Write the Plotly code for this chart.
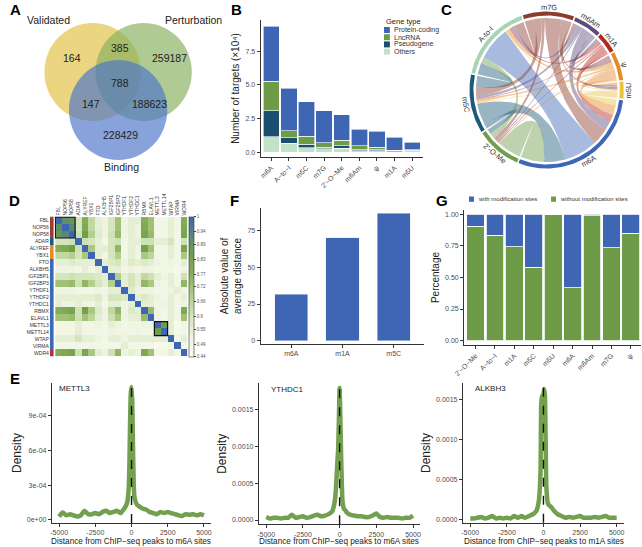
import numpy as np
import plotly.graph_objects as go

W, H = 642, 547
FONT = "Liberation Sans, Arial, Helvetica, sans-serif"
DARK = "#1a1a1a"
TICKC = "#4d4d4d"

# ======================= DATA =======================
# Panel A (Venn)
venn_sets = ["Validated", "Perturbation", "Binding"]
venn_regions = ["V", "V&P", "P", "V&P&B", "V&B", "P&B", "B"]
venn_counts = [164, 385, 259187, 788, 147, 188623, 228429]

# Panel B (x10^4 targets)
b_mods = ["m6A", "A−to−I", "m5C", "m7G", "2'−O−Me", "m6Am", "ψ", "m1A", "m5U"]
gene_types = ["Protein-coding", "LncRNA", "Pseudogene", "Others"]
b_protein = [4.08, 3.15, 2.55, 2.40, 1.90, 1.20, 1.19, 0.95, 0.55]
b_lnc = [2.22, 0.52, 0.60, 0.33, 0.40, 0.30, 0.18, 0.05, 0.05]
b_pseudo = [1.91, 0.41, 0.25, 0.12, 0.20, 0.10, 0.08, 0.05, 0.05]
b_others = [1.16, 0.67, 0.35, 0.25, 0.30, 0.10, 0.10, 0.05, 0.10]

# Panel C (chord)
chord_nodes = ["m7G", "m6Am", "m1A", "ψ", "m5U", "m6A", "2'-O-Me", "m5C", "A-to-I"]
link_a = ["m6A", "m6A", "m6A", "m6A", "m6A", "m6A", "m6A", "m6A",
          "A-to-I", "A-to-I", "A-to-I", "A-to-I", "A-to-I", "A-to-I", "A-to-I",
          "m5C", "m5C", "m5C", "m5C", "m5C", "m5C",
          "2'-O-Me", "2'-O-Me", "2'-O-Me", "2'-O-Me",
          "m7G", "m7G", "m7G", "m7G",
          "m6Am", "m6Am", "m6Am", "m1A", "m1A", "ψ"]
link_b = ["A-to-I", "m5C", "2'-O-Me", "m7G", "m6Am", "m1A", "ψ", "m5U",
          "m5C", "m7G", "2'-O-Me", "m6Am", "ψ", "m1A", "m5U",
          "m7G", "2'-O-Me", "m6Am", "ψ", "m1A", "m5U",
          "m7G", "m6Am", "ψ", "m1A",
          "m6Am", "m1A", "ψ", "m5U",
          "m1A", "ψ", "m5U", "ψ", "m5U", "m5U"]
link_v = [28, 18, 20, 14, 8, 6, 8, 5,
          10, 8, 5, 3, 3, 2, 1,
          6, 4, 3, 2, 1, 1,
          3, 1, 1, 1,
          2, 2, 3, 2,
          2, 2, 1, 1, 1, 2]

# Panel D (correlation heatmap)
d_genes = ["FBL", "NOP56", "NOP58", "ADAR", "ALYREF", "YBX1", "FTO", "ALKBH5", "IGF2BP1", "IGF2BP3",
           "YTHDF1", "YTHDF2", "YTHDC1", "RBMX", "ELAVL1", "METTL3", "METTL14", "WTAP", "VIRMA", "WDR4"]
d_group = [0, 0, 0, 1, 2, 2, 3, 3, 3, 3, 3, 3, 3, 3, 3, 3, 3, 3, 3, 4]
d_corr = [
    [1, .90, .88, .60, .78, .65, .55, .52, .60, .72, .52, .55, .55, .78, .72, .50, .50, .55, .50, .78],
    [.90, 1, .92, .60, .80, .65, .55, .52, .60, .72, .52, .55, .52, .80, .72, .50, .50, .55, .50, .80],
    [.88, .92, 1, .62, .85, .68, .57, .52, .62, .74, .52, .55, .52, .82, .74, .50, .50, .55, .50, .82],
    [.60, .60, .62, 1, .62, .60, .55, .50, .60, .62, .50, .55, .55, .62, .62, .55, .55, .60, .50, .62],
    [.78, .80, .85, .62, 1, .70, .55, .55, .60, .75, .50, .55, .52, .84, .72, .50, .50, .55, .50, .82],
    [.65, .65, .68, .60, .70, 1, .55, .50, .60, .68, .50, .55, .50, .70, .66, .50, .50, .55, .50, .70],
    [.55, .55, .57, .55, .55, .55, 1, .55, .58, .60, .52, .58, .55, .58, .56, .52, .50, .52, .50, .56],
    [.52, .52, .52, .50, .55, .50, .55, 1, .55, .55, .50, .52, .50, .52, .52, .50, .50, .50, .48, .52],
    [.60, .60, .62, .60, .60, .60, .58, .55, 1, .68, .55, .60, .55, .65, .62, .55, .52, .55, .50, .62],
    [.72, .72, .74, .62, .75, .68, .60, .55, .68, 1, .55, .60, .55, .75, .70, .52, .50, .55, .50, .75],
    [.52, .52, .52, .50, .50, .50, .52, .50, .55, .55, 1, .58, .52, .52, .52, .50, .50, .52, .55, .52],
    [.55, .55, .55, .55, .55, .55, .58, .52, .60, .60, .58, 1, .55, .58, .55, .52, .50, .55, .50, .55],
    [.55, .52, .52, .55, .52, .50, .55, .50, .55, .55, .52, .55, 1, .55, .55, .50, .52, .55, .50, .52],
    [.78, .80, .82, .62, .84, .70, .58, .52, .65, .75, .52, .58, .55, 1, .74, .52, .50, .55, .50, .80],
    [.72, .72, .74, .62, .72, .66, .56, .52, .62, .70, .52, .55, .55, .74, 1, .52, .50, .55, .50, .72],
    [.50, .50, .50, .55, .50, .50, .52, .50, .55, .52, .50, .52, .50, .52, .52, 1, .86, .55, .46, .50],
    [.50, .50, .50, .55, .50, .50, .50, .50, .52, .50, .50, .50, .52, .50, .50, .86, 1, .55, .48, .50],
    [.55, .55, .55, .60, .55, .55, .52, .50, .55, .55, .52, .55, .55, .55, .55, .55, .55, 1, .50, .55],
    [.50, .50, .50, .50, .50, .50, .50, .48, .50, .50, .55, .50, .50, .50, .50, .46, .48, .50, 1, .50],
    [.78, .80, .82, .62, .82, .70, .56, .52, .62, .75, .52, .55, .52, .80, .72, .50, .50, .55, .50, 1],
]
d_cbar_ticks = [1, 0.94, 0.89, 0.83, 0.77, 0.72, 0.66, 0.6, 0.55, 0.49, 0.44]

# Panel E (density, in units of 1e-4)
e_x = [-5000, -4750, -4500, -4250, -4000, -3750, -3500, -3250, -3000, -2750, -2500, -2250, -2000,
       -1750, -1500, -1250, -1000, -750, -500, -400, -300, -200, -150, -100, -50, 0, 50, 100, 150,
       200, 300, 400, 500, 750, 1000, 1250, 1500, 1750, 2000, 2250, 2500, 2750, 3000, 3250, 3500,
       3750, 4000, 4250, 4500, 4750, 5000]
e_mettl3 = [0.3, 0.65, 0.4, 0.5, 0.4, 0.3, 0.4, 0.8, 0.5, 0.5, 0.6, 0.5, 0.7, 0.8, 0.6, 0.7, 0.8, 0.6, 1.0,
            1.2, 1.5, 2.6, 4.5, 8.5, 11.0, 11.5, 10.2, 6.5, 3.2, 2.0, 1.5, 1.3,
            1.2, 1.0, 0.9, 0.7, 0.6, 0.5, 0.7, 0.6, 0.7, 0.6, 0.5, 0.4, 0.35, 0.5, 0.45, 0.5, 0.4, 0.5, 0.4]
e_ythdc1 = [0.4, 0.2, 0.3, 0.3, 0.2, 0.3, 0.3, 0.7, 0.3, 0.4, 0.5, 0.3, 0.4, 0.6, 0.7, 0.5, 0.6, 0.8, 1.2,
            1.8, 3.0, 6.0, 8.0, 9.5, 13.5, 17.9, 14.0, 9.0, 5.0, 2.5, 1.5, 1.3,
            1.0, 0.7, 0.6, 0.5, 0.5, 0.4, 0.4, 0.6, 0.9, 0.4, 0.3, 0.4, 0.3, 0.3, 0.3, 0.2, 0.3, 0.3, 0.6]
e_alkbh3 = [0.1, 0.1, 0.2, 0.3, 0.1, 0.2, 0.4, 0.1, 0.2, 0.1, 0.2, 0.1, 0.4, 0.2, 0.4, 0.2, 0.4, 0.6, 1.0,
            1.5, 2.5, 6.0, 14.5, 15.3, 15.5, 15.6, 16.3, 15.5, 10.0, 4.0, 2.0, 1.7,
            1.6, 1.0, 0.6, 0.4, 0.2, 0.3, 0.2, 0.3, 0.4, 0.2, 0.2, 0.2, 0.3, 0.2, 0.3, 0.4, 0.2, 0.2, 0.2]
e_names = ["METTL3", "YTHDC1", "ALKBH3"]
e_sites = ["m6A", "m6A", "m1A"]

# Panel F
f_mods = ["m6A", "m1A", "m5C"]
f_dist = [31.6, 70.2, 86.8]

# Panel G
g_mods = ["2'−O−Me", "A−to−I", "m1A", "m5C", "m5U", "m6A", "m6Am", "m7G", "ψ"]
g_series = ["with modification sites", "without modification sites"]
g_with = [0.095, 0.166, 0.258, 0.421, 0.0, 0.582, 0.015, 0.266, 0.15]
g_without = [0.905, 0.834, 0.742, 0.579, 1.0, 0.418, 0.985, 0.734, 0.85]

# ======================= STYLE =======================
BLUE, GREEN, DTEAL, PALE = "#3F66B5", "#6E9B48", "#1B4F72", "#BFE2C9"
chord_colors = ["#8E3B2F", "#5E4B7D", "#B5281C", "#E58A2B", "#E6C440", "#3E67B6", "#6F9D4A", "#1D5A7A", "#A7D4B4"]
link_priority = ["m7G", "m6Am", "m1A", "ψ", "m5U", "m5C", "2'-O-Me", "m6A", "A-to-I"]
strip_colors = ["#A33A2E", "#1D5A7A", "#E58A2B", "#3E67B6", "#B8322A"]


def xd(a, b):
    return [a / W, b / W]


def yd(a, b):
    return [1 - b / H, 1 - a / H]


def ax(**kw):
    d = dict(showline=True, linecolor="#333333", linewidth=1, ticks="outside", ticklen=3, tickwidth=1,
             tickcolor="#333333", tickfont=dict(size=7, color=TICKC, family=FONT), showgrid=False,
             zeroline=False, fixedrange=True)
    d.update(kw)
    return d


def rgba(hexc, a):
    h = hexc.lstrip("#")
    return "rgba(%d,%d,%d,%.2f)" % (int(h[0:2], 16), int(h[2:4], 16), int(h[4:6], 16), a)


fig = go.Figure()
annos = []
shapes = []


def text(x, y, s, size=8, color=DARK, anchor="center", angle=0, bold=False):
    annos.append(dict(x=x, y=y, xref="x", yref="y", text=("<b>%s</b>" % s) if bold else s,
                      showarrow=False, xanchor=anchor, yanchor="middle", textangle=angle,
                      font=dict(size=size, color=color, family=FONT)))


# ---------- Panel letters ----------
for L, (lx, ly) in zip("ABCDFGE", [(6, 9), (230, 9), (444, 9), (5, 200), (228, 200), (440, 200), (5, 378)]):
    text(lx, ly, L, size=15, color="#000", bold=True)

# ---------- Panel A: Venn ----------
venn_geom = [(84, 72, 49, "#E0C03E"), (136, 72, 49, "#87AE5C"), (110, 110, 50, "#4B73CA")]
for cxv, cyv, r, c in venn_geom:
    shapes.append(dict(type="circle", xref="x", yref="y", x0=cxv - r, x1=cxv + r, y0=cyv - r, y1=cyv + r,
                       fillcolor=c, opacity=0.66, line=dict(width=0), layer="below"))
venn_label_pos = [(39, 20), (187, 20), (113, 167)]
for nm, (lx, ly) in zip(venn_sets, venn_label_pos):
    text(lx, ly, nm, size=10.5, color="#222")
venn_num_pos = [(63, 58), (112, 48), (162, 58), (112, 83), (82, 104), (142, 104), (112, 135)]
for v, (lx, ly) in zip(venn_counts, venn_num_pos):
    text(lx, ly, str(v), size=10.5, color="#222")

# ---------- Panel C: chord ----------
cx, cy = 546, 90
r_link, r_in, r_out, r_lab = 72, 74.5, 78.5, 83
gap = 1.2
n = len(chord_nodes)
tot = {nm: 0 for nm in chord_nodes}
for a, b, v in zip(link_a, link_b, link_v):
    tot[a] += v
    tot[b] += v
scale = (360 - gap * n) / sum(tot.values())
sec = {}
ang = -18
for nm in chord_nodes:
    sec[nm] = (ang, ang + tot[nm] * scale)
    ang += tot[nm] * scale + gap
pos = {nm: i for i, nm in enumerate(chord_nodes)}
ends = {}
for nm in chord_nodes:
    items = []
    for k, (a, b, v) in enumerate(zip(link_a, link_b, link_v)):
        if a == nm:
            items.append((k, b, v))
        elif b == nm:
            items.append((k, a, v))
    items.sort(key=lambda t: -((pos[t[1]] - pos[nm]) % n))
    a0 = sec[nm][0]
    for k, other, v in items:
        ends[(k, nm)] = (a0, a0 + v * scale)
        a0 += v * scale


def P(t, r):
    t = np.radians(t)
    return cx + r * np.sin(t), cy - r * np.cos(t)


def arc(t0, t1, r):
    m = max(4, int(abs(t1 - t0) / 1.5) + 2)
    return [P(t, r) for t in np.linspace(t0, t1, m)]


def bez(p0, p2, m=30):
    out = []
    for s in np.linspace(0, 1, m):
        x = (1 - s) ** 2 * p0[0] + 2 * (1 - s) * s * cx + s ** 2 * p2[0]
        y = (1 - s) ** 2 * p0[1] + 2 * (1 - s) * s * cy + s ** 2 * p2[1]
        out.append((x, y))
    return out


for k, (a, b, v) in enumerate(zip(link_a, link_b, link_v)):
    a1, a2 = ends[(k, a)]
    b1, b2 = ends[(k, b)]
    pts = arc(a1, a2, r_link) + bez(P(a2, r_link), P(b1, r_link)) + arc(b1, b2, r_link) + \
        bez(P(b2, r_link), P(a1, r_link))
    col_node = a if link_priority.index(a) < link_priority.index(b) else b
    col = chord_colors[chord_nodes.index(col_node)]
    fig.add_trace(go.Scatter(x=[p[0] for p in pts], y=[p[1] for p in pts], mode="lines", fill="toself",
                             fillcolor=rgba(col, 0.45), line=dict(width=0), hoverinfo="skip",
                             xaxis="x", yaxis="y", showlegend=False))
for nm, col in zip(chord_nodes, chord_colors):
    s, e = sec[nm]
    pts = arc(s, e, r_out) + arc(e, s, r_in)
    fig.add_trace(go.Scatter(x=[p[0] for p in pts], y=[p[1] for p in pts], mode="lines", fill="toself",
                             fillcolor=col, line=dict(width=0), hoverinfo="skip",
                             xaxis="x", yaxis="y", showlegend=False))
    mid = (s + e) / 2
    lx, ly = P(mid, r_lab)
    m = ((mid + 180) % 360) - 180
    tang = m if -90 <= m <= 90 else (m - 180 if m > 90 else m + 180)
    text(lx, ly, nm, size=7.5, color="#333", angle=tang)

# ---------- Panel B ----------
b_series = [b_others, b_pseudo, b_lnc, b_protein]
b_names = gene_types[::-1]
b_cols = [PALE, DTEAL, GREEN, BLUE]
for vals, nm, c in zip(b_series, b_names, b_cols):
    fig.add_trace(go.Bar(x=b_mods, y=vals, name=nm, marker=dict(color=c, line=dict(color="white", width=0.6)),
                         width=0.93, xaxis="x2", yaxis="y2", showlegend=False))
text(380.5, 21.5, "Gene type", size=7.5, color="#222", anchor="left")
for i, (nm, c) in enumerate(zip(gene_types, b_cols[::-1])):
    yy = 30 + i * 7.2
    shapes.append(dict(type="rect", xref="x", yref="y", x0=380.5, x1=386.5, y0=yy - 3, y1=yy + 3,
                       fillcolor=c, line=dict(width=0), layer="above"))
    text(388.5, yy, nm, size=7, color="#333", anchor="left")

# ---------- Panel D ----------
M = np.array(d_corr, dtype=float)
M = (M + M.T) / 2
cs = [[0, "#FBFCF0"], [0.15, "#EDF4E0"], [0.3, "#D3E5BA"], [0.45, "#AECB84"], [0.6, "#86AD58"],
      [0.75, "#6E9B4C"], [0.88, "#55857E"], [1, "#3F66B5"]]
fig.add_trace(go.Heatmap(z=M.tolist(), x=d_genes, y=d_genes, colorscale=cs, zmin=0.44, zmax=1,
                         xaxis="x5", yaxis="y5", hoverinfo="skip",
                         colorbar=dict(x=182.5 / W, xanchor="left", y=1 - 216.5 / H, yanchor="top",
                                       len=(356.5 - 216.5) / H, lenmode="fraction", thickness=5,
                                       xpad=0, ypad=0, tickvals=d_cbar_ticks,
                                       ticktext=[str(t) for t in d_cbar_ticks],
                                       tickfont=dict(size=4.5, color="#555", family=FONT),
                                       ticks="outside", ticklen=2, outlinewidth=0.6, outlinecolor="#333")))
ng = len(strip_colors)
fig.add_trace(go.Heatmap(z=[[g] for g in d_group], x=["grp"], y=d_genes,
                         colorscale=[[i / (ng - 1), c] for i, c in enumerate(strip_colors)],
                         zmin=0, zmax=ng - 1, showscale=False, xaxis="x6", yaxis="y6", hoverinfo="skip"))
shapes.append(dict(type="rect", xref="x5", yref="y5", x0=-0.5, x1=2.5, y0=-0.5, y1=2.5,
                   line=dict(color="#111", width=1.2), layer="above"))
shapes.append(dict(type="rect", xref="x5", yref="y5", x0=14.5, x1=16.5, y0=14.5, y1=16.5,
                   line=dict(color="#111", width=1.2), layer="above"))

# ---------- Panel F ----------
fig.add_trace(go.Bar(x=f_mods, y=f_dist, marker=dict(color=BLUE), width=0.65, xaxis="x3", yaxis="y3",
                     showlegend=False))

# ---------- Panel G ----------
fig.add_trace(go.Bar(x=g_mods, y=g_without, name=g_series[1], marker=dict(color=GREEN, line=dict(color="white", width=0.8)),
                     width=0.92, xaxis="x4", yaxis="y4", showlegend=False))
fig.add_trace(go.Bar(x=g_mods, y=g_with, name=g_series[0], marker=dict(color=BLUE, line=dict(color="white", width=0.8)),
                     width=0.92, xaxis="x4", yaxis="y4", showlegend=False))
for (x0, tx), nm, c in zip([(467, 474), (550.5, 557.5)], g_series, [BLUE, GREEN]):
    shapes.append(dict(type="rect", xref="x", yref="y", x0=x0, x1=x0 + 5, y0=196.5, y1=201.8,
                       fillcolor=c, line=dict(width=0), layer="above"))
    text(tx, 199.2, nm, size=6, color="#333", anchor="left")

# ---------- Panel E ----------
e_data = [e_mettl3, e_ythdc1, e_alkbh3]
e_axes = [("x7", "y7"), ("x8", "y8"), ("x9", "y9")]
for ys, (xa, ya), nm in zip(e_data, e_axes, e_names):
    fig.add_trace(go.Scatter(x=e_x, y=[v * 1e-4 for v in ys], mode="lines",
                             line=dict(color="#72A04E", width=4.5, shape="spline", smoothing=0.5),
                             xaxis=xa, yaxis=ya, showlegend=False, hoverinfo="skip"))
    shapes.append(dict(type="line", xref=xa, yref=ya + " domain", x0=0, x1=0, y0=0, y1=1,
                       line=dict(color="#111", width=1.4, dash="dash"), layer="above"))
e_label_pos = [(48, 388), (264, 389), (471, 388)]
for nm, (lx, ly) in zip(e_names, e_label_pos):
    text(lx, ly, nm, size=8, color="#222", anchor="left")
e_title_x = [123, 335, 543]
for site, tx in zip(e_sites, e_title_x):
    text(tx, 541.5, "Distance from ChIP−seq peaks to %s sites" % site, size=8.2, color="#222")

# ======================= LAYOUT =======================
lay = dict(width=W, height=H, margin=dict(l=0, r=0, t=0, b=0), paper_bgcolor="white",
           plot_bgcolor="rgba(0,0,0,0)", barmode="stack", showlegend=False,
           font=dict(family=FONT, color=DARK))
lay["xaxis"] = dict(domain=[0, 1], range=[0, W], visible=False, fixedrange=True)
lay["yaxis"] = dict(domain=[0, 1], range=[H, 0], visible=False, fixedrange=True)

lay["xaxis2"] = ax(domain=xd(255, 420), anchor="y2", range=[-0.6, 8.6], tickangle=-45)
lay["yaxis2"] = ax(domain=yd(20, 157), anchor="x2", range=[-0.35, 9.82], tickvals=[0, 2.5, 5, 7.5],
                   ticktext=["0.0", "2.5", "5.0", "7.5"],
                   title=dict(text="Number of targets (×10⁴)", font=dict(size=10, color="#222"), standoff=3))

lay["xaxis3"] = ax(domain=xd(255, 421.7), anchor="y3", range=[-0.6, 2.6])
lay["yaxis3"] = ax(domain=yd(208, 344), anchor="x3", range=[-2.25, 90.4], tickvals=[0, 25, 50, 75],
                   title=dict(text="Absolute value of<br>average distance", font=dict(size=10, color="#222"),
                              standoff=3))

lay["xaxis4"] = ax(domain=xd(462, 642), anchor="y4", range=[-0.59, 8.52], tickangle=-45)
lay["yaxis4"] = ax(domain=yd(210, 345), anchor="x4", range=[-0.034, 1.032], tickvals=[0, .25, .5, .75, 1],
                   ticktext=["0.00", "0.25", "0.50", "0.75", "1.00"],
                   title=dict(text="Percentage", font=dict(size=10, color="#222"), standoff=3))

lay["xaxis5"] = dict(domain=xd(45.5, 180.5), anchor="y5", side="top", tickangle=-90, ticks="",
                     tickfont=dict(size=5, color="#333", family=FONT), showgrid=False, zeroline=False,
                     showline=False, fixedrange=True)
lay["yaxis5"] = dict(domain=yd(216.5, 356.5), anchor="x5", autorange="reversed", showticklabels=False,
                     ticks="", showgrid=False, zeroline=False, fixedrange=True)
lay["xaxis6"] = dict(domain=xd(40.5, 44.5), anchor="y6", visible=False, fixedrange=True)
lay["yaxis6"] = dict(domain=yd(216.5, 356.5), anchor="x6", autorange="reversed", ticks="",
                     tickfont=dict(size=5, color="#333", family=FONT), showgrid=False, zeroline=False,
                     showline=False, fixedrange=True)

e_dom = [(xd(42.6, 204.7), yd(383, 523), [-0.26e-4, 1.185e-3]),
         (xd(253.2, 417.5), yd(383.3, 524.3), [-0.58e-4, 1.852e-3]),
         (xd(460.8, 624.7), yd(383.3, 522.7), [-0.425e-4, 1.70e-3])]
e_ticks = [([0, 3e-4, 6e-4, 9e-4], ["0e+00", "3e-04", "6e-04", "9e-04"]),
           ([0, 5e-4, 1e-3, 1.5e-3], ["0.0000", "0.0005", "0.0010", "0.0015"]),
           ([0, 5e-4, 1e-3, 1.5e-3], ["0.0000", "0.0005", "0.0010", "0.0015"])]
for i, ((xdm, ydm, yr), (tv, tt)) in enumerate(zip(e_dom, e_ticks)):
    k = 7 + i
    lay["xaxis%d" % k] = ax(domain=xdm, anchor="y%d" % k, range=[-5500, 5500],
                            tickvals=[-5000, -2500, 0, 2500, 5000],
                            ticktext=["-5000", "-2500", "0", "2500", "5000"])
    lay["yaxis%d" % k] = ax(domain=ydm, anchor="x%d" % k, range=yr, tickvals=tv, ticktext=tt,
                            title=dict(text="Density", font=dict(size=12, color="#222"), standoff=2))

lay["annotations"] = annos
lay["shapes"] = shapes
fig.update_layout(**lay)
fig.write_html("out.html", config={"displayModeBar": False},
               post_script="document.body.style.margin='0';document.body.style.overflow='hidden';")
